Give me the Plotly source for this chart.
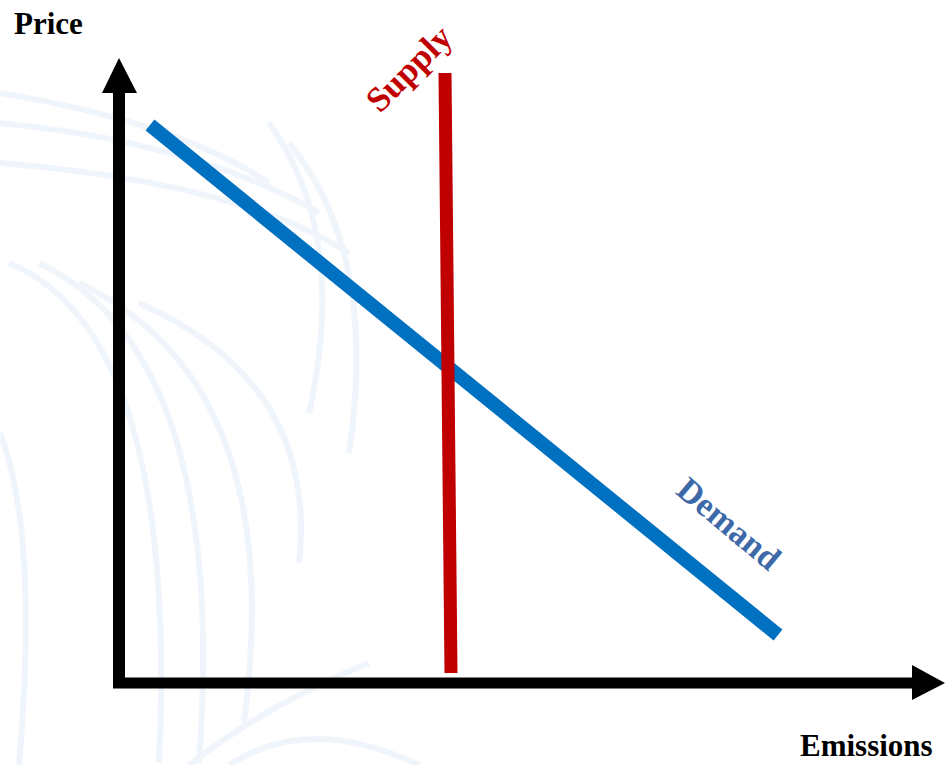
import plotly.graph_objects as go

# Supply/demand lines in chart units (origin at the corner of the axes)
demand_q = [31, 659]
demand_p = [558, 48]
supply_q = [326, 332]
supply_p = [610, 10]

x_label = "Emissions"
y_label = "Price"
supply_label = "Supply"
demand_label = "Demand"

W, H = 945, 765
X0, Y0 = 119, 683  # page position of the axes origin

fig = go.Figure()

# faint decorative swirl strokes in the background
swirl_paths = [
    "M -119 590 Q 60 560 150 500",
    "M -119 560 Q 80 540 200 470",
    "M -119 520 Q 120 500 230 430",
    "M -110 420 Q 60 350 40 -80",
    "M -80 420 Q 110 330 80 -80",
    "M -40 400 Q 170 300 125 -40",
    "M 20 380 Q 200 300 180 120",
    "M 150 560 Q 230 450 190 270",
    "M 170 540 Q 260 430 230 230",
    "M -119 250 Q -80 150 -100 -82",
    "M 70 -82 Q 150 -20 250 20",
    "M 110 -82 Q 190 -30 300 -82",
]
shapes = []
for p in swirl_paths:
    shapes.append(dict(type="path", path=p, xref="x", yref="y",
                       line=dict(color="#f0f5fc", width=6), layer="below"))

# axes drawn as thick black arrows
shapes += [
    dict(type="line", xref="x", yref="y", x0=0, y0=0, x1=0, y1=590,
         line=dict(color="black", width=12)),
    dict(type="line", xref="x", yref="y", x0=-6, y0=0, x1=795, y1=0,
         line=dict(color="black", width=11)),
    dict(type="path", xref="x", yref="y", path="M -17 590 L 18 590 L 0 625 Z",
         fillcolor="black", line=dict(width=0)),
    dict(type="path", xref="x", yref="y", path="M 793 18 L 826 0 L 793 -17 Z",
         fillcolor="black", line=dict(width=0)),
]

fig.add_trace(go.Scatter(x=demand_q, y=demand_p, mode="lines",
                         line=dict(color="#0070c0", width=14), hoverinfo="skip"))
fig.add_trace(go.Scatter(x=supply_q, y=supply_p, mode="lines",
                         line=dict(color="#c00000", width=13), hoverinfo="skip"))

serif = "Liberation Serif, Times New Roman, serif"
annotations = [
    dict(x=-107, y=660, xref="x", yref="y", text=f"<b>{y_label}</b>", showarrow=False,
         xanchor="left", yanchor="middle", font=dict(family=serif, size=31, color="black")),
    dict(x=815, y=-62, xref="x", yref="y", text=f"<b>{x_label}</b>", showarrow=False,
         xanchor="right", yanchor="middle", borderpad=0,
         font=dict(family=serif, size=31, color="black")),
    dict(x=290, y=615, xref="x", yref="y", text=f"<b>{supply_label}</b>", showarrow=False,
         textangle=-45, font=dict(family=serif, size=35, color="#c00000")),
    dict(x=610, y=160, xref="x", yref="y", text=f"<b>{demand_label}</b>", showarrow=False,
         textangle=40, font=dict(family=serif, size=34, color="#3d69a8")),
]

fig.update_layout(
    width=W, height=H,
    margin=dict(l=0, r=0, t=0, b=0),
    paper_bgcolor="white", plot_bgcolor="white",
    showlegend=False,
    shapes=shapes, annotations=annotations,
    xaxis=dict(range=[-X0, W - X0], visible=False, fixedrange=True),
    yaxis=dict(range=[Y0 - H, Y0], visible=False, fixedrange=True),
)

fig.write_html("out.html", config={"displayModeBar": False})
